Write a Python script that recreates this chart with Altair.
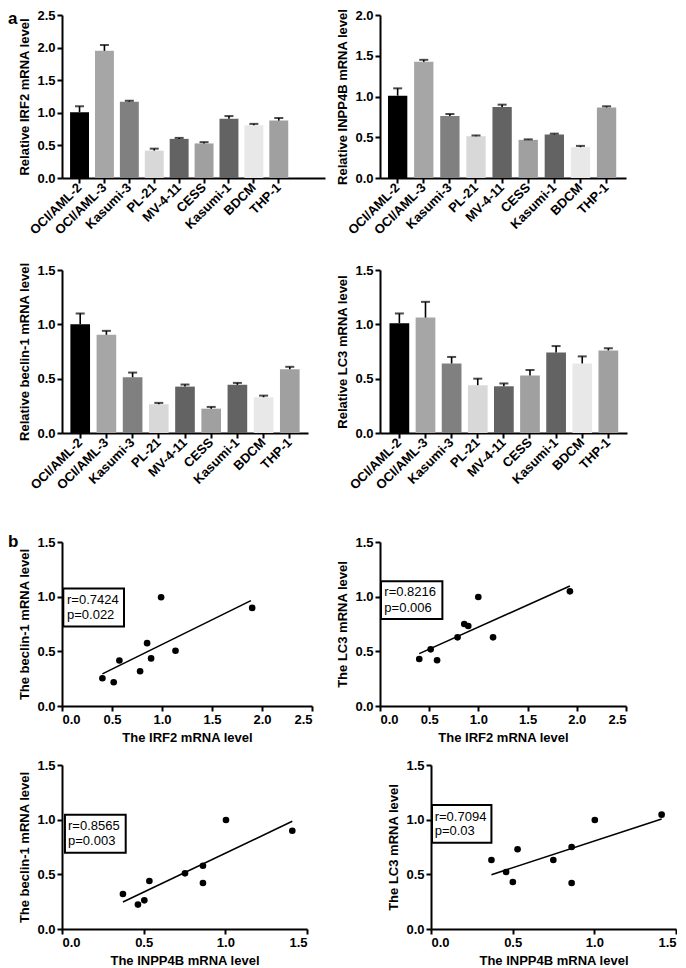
import altair as alt
import pandas as pd

FONT = "Liberation Sans"

# ---------------- data ----------------
CELL_LINES = ["OCI/AML-2", "OCI/AML-3", "Kasumi-3", "PL-21", "MV-4-11",
              "CESS", "Kasumi-1", "BDCM", "THP-1"]
BAR_COLORS = ["#000000", "#a6a6a6", "#808080", "#d8d8d8", "#636363",
              "#a0a0a0", "#636363", "#e8e8e8", "#a0a0a0"]

IRF2_MEAN = [1.01, 1.95, 1.17, 0.42, 0.60, 0.53, 0.91, 0.81, 0.88]
IRF2_TOP = [1.10, 2.04, 1.185, 0.45, 0.615, 0.55, 0.95, 0.83, 0.92]

INPP4B_MEAN = [1.01, 1.425, 0.76, 0.513, 0.87, 0.468, 0.534, 0.378, 0.866]
INPP4B_TOP = [1.10, 1.45, 0.785, 0.522, 0.90, 0.474, 0.544, 0.394, 0.88]

BECLIN_MEAN = [1.00, 0.904, 0.513, 0.264, 0.427, 0.224, 0.443, 0.329, 0.587]
BECLIN_TOP = [1.10, 0.94, 0.556, 0.277, 0.446, 0.24, 0.461, 0.344, 0.609]

LC3_MEAN = [1.01, 1.062, 0.64, 0.44, 0.43, 0.53, 0.74, 0.64, 0.76]
LC3_TOP = [1.10, 1.207, 0.70, 0.50, 0.456, 0.58, 0.80, 0.705, 0.78]

# scatter b1: IRF2 vs beclin-1
S1_X = [0.404, 0.517, 0.574, 0.781, 0.851, 0.891, 0.991, 1.135, 1.902]
S1_Y = [0.254, 0.217, 0.416, 0.318, 0.575, 0.435, 0.995, 0.505, 0.897]
S1_FIT_X = [0.404, 1.889]
S1_FIT_Y = [0.294, 0.964]
S1_BOX_X = [0.013, 0.62]
S1_BOX_Y = [0.728, 1.074]
S1_TXT_X = [0.05, 0.05]
S1_TXT_Y = [0.97, 0.836]
S1_TXT = ["r=0.7424", "p=0.022"]

# scatter b2: IRF2 vs LC3
S2_X = [0.399, 0.515, 0.580, 0.788, 0.856, 0.897, 0.999, 1.149, 1.930]
S2_Y = [0.430, 0.518, 0.418, 0.628, 0.750, 0.732, 0.997, 0.628, 1.049]
S2_FIT_X = [0.399, 1.93]
S2_FIT_Y = [0.479, 1.098]
S2_BOX_X = [0.01, 0.634]
S2_BOX_Y = [0.796, 1.14]
S2_TXT_X = [0.044, 0.044]
S2_TXT_Y = [1.04, 0.90]
S2_TXT = ["r=0.8216", "p=0.006"]

# scatter b3: INPP4B vs beclin-1
S3_X = [0.373, 0.465, 0.504, 0.535, 0.753, 0.863, 0.863, 1.004, 1.41]
S3_Y = [0.320, 0.223, 0.262, 0.439, 0.509, 0.579, 0.421, 0.997, 0.899]
S3_FIT_X = [0.373, 1.41]
S3_FIT_Y = [0.247, 0.985]
S3_BOX_X = [0.018, 0.39]
S3_BOX_Y = [0.698, 1.046]
S3_TXT_X = [0.037, 0.037]
S3_TXT_Y = [0.942, 0.805]
S3_TXT = ["r=0.8565", "p=0.003"]

# scatter b4: INPP4B vs LC3
S4_X = [0.370, 0.460, 0.501, 0.530, 0.749, 0.861, 0.861, 1.003, 1.412]
S4_Y = [0.631, 0.521, 0.430, 0.729, 0.631, 0.750, 0.421, 0.997, 1.046]
S4_FIT_X = [0.370, 1.412]
S4_FIT_Y = [0.497, 1.006]
S4_BOX_X = [0.006, 0.37]
S4_BOX_Y = [0.79, 1.134]
S4_TXT_X = [0.0225, 0.0225]
S4_TXT_Y = [1.027, 0.893]
S4_TXT = ["r=0.7094", "p=0.03"]

Y_TICKS_25 = [0, 0.5, 1.0, 1.5, 2.0, 2.5]
Y_TICKS_20 = [0, 0.5, 1.0, 1.5, 2.0]
Y_TICKS_15 = [0, 0.5, 1.0, 1.5]


def letter_layer(letter, x, y):
    return alt.Chart(pd.DataFrame({"t": [letter]})).mark_text(
        text=letter, font=FONT, fontSize=17, fontWeight="bold", color="black",
        align="left", baseline="alphabetic"
    ).encode(x=alt.value(x), y=alt.value(y))


def bar_panel(mean, top, ytitle, ymax, yticks, width, height, extra,
              pin, pout, align, letter=None):
    df = pd.DataFrame({"cell": CELL_LINES, "mean": mean, "top": top})
    xenc = alt.X("cell:N", sort=CELL_LINES, title=None,
                 scale=alt.Scale(paddingInner=pin, paddingOuter=pout, align=align),
                 axis=alt.Axis(labelAngle=-45, labelAlign="right",
                               labelBaseline="middle", labelFontSize=13,
                               labelPadding=2))
    yscale = alt.Scale(domain=[0, ymax], nice=False, range=[height, extra])
    yaxis = alt.Axis(values=yticks, format=".1f", title=ytitle)
    yenc = alt.Y("mean:Q", scale=yscale, axis=yaxis)
    base = alt.Chart(df)
    bars = base.mark_bar().encode(
        x=xenc, y=yenc,
        color=alt.Color("cell:N", scale=alt.Scale(domain=CELL_LINES, range=BAR_COLORS),
                        legend=None))
    err = base.mark_rule(color="black", strokeWidth=1.6).encode(
        x=xenc, y=yenc, y2=alt.Y2("top:Q"))
    cap = base.mark_tick(color="black", size=9, thickness=2, orient="horizontal").encode(
        x=xenc, y=alt.Y("top:Q", scale=yscale, axis=yaxis))
    layers = [bars, err, cap]
    if letter:
        layers.append(letter_layer(letter, -54, extra + 8.5))
    return alt.layer(*layers).properties(width=width, height=height)


def scatter_panel(xs, ys, fx, fy, bx, by, tx, ty, tt, xtitle, ytitle, xmax, xticks,
                  width, height, extra, xoff=0, letter=None):
    pts = pd.DataFrame({"x": xs, "y": ys})
    fit = pd.DataFrame({"x": fx, "y": fy})
    box = pd.DataFrame({"x": [bx[0]], "x2": [bx[1]], "y": [by[0]], "y2": [by[1]]})
    txt = pd.DataFrame({"x": tx, "y": ty, "label": tt})
    xscale = alt.Scale(domain=[0, xmax], nice=False, range=[xoff, width])
    yscale = alt.Scale(domain=[0, 1.5], nice=False, range=[height, extra])
    xenc = alt.X("x:Q", scale=xscale,
                 axis=alt.Axis(values=xticks, format=".1f", title=xtitle))
    if xoff:
        yaxis = alt.Axis(values=Y_TICKS_15, format=".1f", title=ytitle, offset=-xoff)
    else:
        yaxis = alt.Axis(values=Y_TICKS_15, format=".1f", title=ytitle)
    yenc = alt.Y("y:Q", scale=yscale, axis=yaxis)
    line = alt.Chart(fit).mark_line(color="black", strokeWidth=1.6).encode(x=xenc, y=yenc)
    dots = alt.Chart(pts).mark_circle(size=44, color="black", opacity=1).encode(x=xenc, y=yenc)
    rect = alt.Chart(box).mark_rect(fill="white", stroke="black", strokeWidth=2).encode(
        x=xenc, x2=alt.X2("x2:Q"), y=yenc, y2=alt.Y2("y2:Q"))
    text = alt.Chart(txt).mark_text(align="left", baseline="middle", font=FONT,
                                    fontSize=13, color="black").encode(
        x=xenc, y=yenc, text="label:N")
    layers = [line, dots, rect, text]
    if letter:
        layers.append(letter_layer(letter, -54, extra + 5))
    return alt.layer(*layers).properties(width=width, height=height)


p1 = bar_panel(IRF2_MEAN, IRF2_TOP, "Relative IRF2 mRNA level", 2.5, Y_TICKS_25,
               263, 163, 0, 0.24, 0.9, 0.18, letter="a")
p2 = bar_panel(INPP4B_MEAN, INPP4B_TOP, "Relative INPP4B mRNA level", 2.0, Y_TICKS_20,
               246, 163, 0, 0.26, 0.34, 0.45)
p3 = bar_panel(BECLIN_MEAN, BECLIN_TOP, "Relative beclin-1 mRNA level", 1.5, Y_TICKS_15,
               246, 199, 36, 0.25, 0.32, 0.5)
p4 = bar_panel(LC3_MEAN, LC3_TOP, "Relative LC3 mRNA level", 1.5, Y_TICKS_15,
               247, 199, 36, 0.245, 0.35, 0.52)
p5 = scatter_panel(S1_X, S1_Y, S1_FIT_X, S1_FIT_Y, S1_BOX_X, S1_BOX_Y, S1_TXT_X, S1_TXT_Y,
                   S1_TXT, "The IRF2 mRNA level", "The beclin-1 mRNA level", 2.5,
                   Y_TICKS_25, 250, 217, 53, letter="b")
p6 = scatter_panel(S2_X, S2_Y, S2_FIT_X, S2_FIT_Y, S2_BOX_X, S2_BOX_Y, S2_TXT_X, S2_TXT_Y,
                   S2_TXT, "The IRF2 mRNA level", "The LC3 mRNA level", 2.5,
                   Y_TICKS_25, 246, 217, 53)
p7 = scatter_panel(S3_X, S3_Y, S3_FIT_X, S3_FIT_Y, S3_BOX_X, S3_BOX_Y, S3_TXT_X, S3_TXT_Y,
                   S3_TXT, "The INPP4B mRNA level", "The beclin-1 mRNA level", 1.5,
                   Y_TICKS_15, 245, 167, 3)
p8 = scatter_panel(S4_X, S4_Y, S4_FIT_X, S4_FIT_Y, S4_BOX_X, S4_BOX_Y, S4_TXT_X, S4_TXT_Y,
                   S4_TXT, "The INPP4B mRNA level", "The LC3 mRNA level", 1.5,
                   Y_TICKS_15, 296, 167, 3, xoff=51)

chart = alt.concat(
    p1, p2, p3, p4, p5, p6, p7, p8,
    columns=2, spacing={"row": 56, "column": 55}, bounds="flush", align="each"
).properties(
    padding={"top": 0, "left": 0, "right": 0, "bottom": 0}
).configure_axis(
    domainColor="black", domainWidth=2, tickColor="black", tickWidth=2, tickSize=5,
    labelFont=FONT, labelFontWeight="bold", labelFontSize=13, labelColor="black",
    labelPadding=2, titleFont=FONT, titleFontWeight="bold", titleFontSize=13,
    titleColor="black", titlePadding=5, grid=False
).configure_view(stroke=None)

chart.save("out.html", embed_options={"renderer": "svg", "actions": False})
